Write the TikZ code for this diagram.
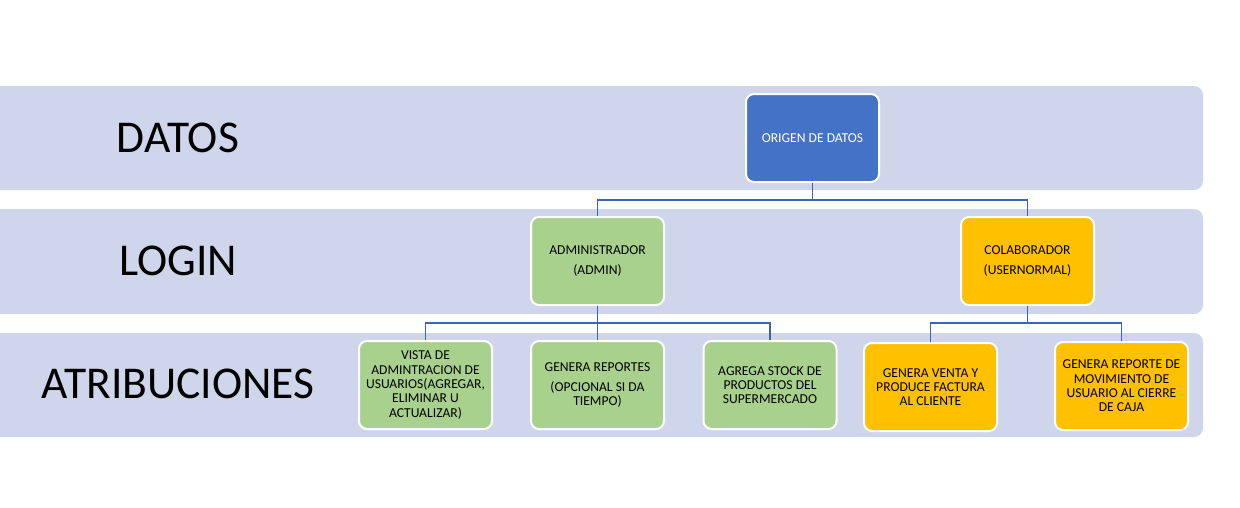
\documentclass[tikz,border=0pt]{standalone}
\usepackage{fontspec}
\setmainfont{Carlito}
\usetikzlibrary{positioning}
\definecolor{bandfill}{HTML}{CFD5EA}
\definecolor{datablue}{HTML}{4472C4}
\definecolor{admingreen}{HTML}{A9D18E}
\definecolor{usergold}{HTML}{FFC000}
\definecolor{linkblue}{HTML}{3B64B4}
\begin{document}
\begin{tikzpicture}[
  x=1pt, y=-1pt,
  band/.style={fill=bandfill, rounded corners=9pt},
  bandlabel/.style={font=\fontsize{45.5}{52}\selectfont},
  box/.style={draw=white, line width=2pt, rounded corners=8pt,
    minimum width=133pt, minimum height=88pt, inner sep=2pt,
    align=center, font=\fontsize{13.6}{14.3}\selectfont},
  srcbox/.style={box, fill=datablue, text=white},
  adminbox/.style={box, fill=admingreen},
  userbox/.style={box, fill=usergold},
  conn/.style={draw=linkblue, line width=1.5pt}
]
\useasboundingbox (0,0) rectangle (1240,507);

% bandas
\fill[band] (-12,86) rectangle (1203,190);
\fill[band] (-12,209) rectangle (1203,314);
\fill[band] (-12,333) rectangle (1203,437);

\node[bandlabel] (datos) at (178,138) {DATOS};
\node[bandlabel] (login) at (178,261) {LOGIN};
\node[bandlabel] (atrib) at (178,384) {ATRIBUCIONES};

% nodos
\node[srcbox] (orig) at (812.5,138) {ORIGEN DE DATOS};
\node[adminbox] (admin) at (597.5,261) {ADMINISTRADOR\\[6pt](ADMIN)};
\node[userbox] (colab) at (1027.5,261) {COLABORADOR\\[6pt](USERNORMAL)};

\node[adminbox] (vista) at (425.5,385) {VISTA DE\\ADMINTRACION DE\\USUARIOS(AGREGAR,\\ELIMINAR U\\ACTUALIZAR)};
\node[adminbox] (report) at (597.5,385) {GENERA REPORTES\\[6pt](OPCIONAL SI DA\\TIEMPO)};
\node[adminbox] (stock) at (770,385) {AGREGA STOCK DE\\PRODUCTOS DEL\\SUPERMERCADO};
\node[userbox] (venta) at (930.5,387) {GENERA VENTA Y\\PRODUCE FACTURA\\AL CLIENTE};
\node[userbox] (cierre) at (1121.5,386) {GENERA REPORTE DE\\MOVIMIENTO DE\\USUARIO AL CIERRE\\DE CAJA};

% conectores
\path[conn] (orig.south) -- ++(0,17) -| (admin.north);
\path[conn] (orig.south) -- ++(0,17) -| (colab.north);
\path[conn] (admin.south) -- ++(0,17) -| (vista.north);
\path[conn] (admin.south) -- (report.north);
\path[conn] (admin.south) -- ++(0,17) -| (stock.north);
\path[conn] (colab.south) -- ++(0,17) -| (venta.north);
\path[conn] (colab.south) -- ++(0,17) -| (cierre.north);

\end{tikzpicture}
\end{document}
